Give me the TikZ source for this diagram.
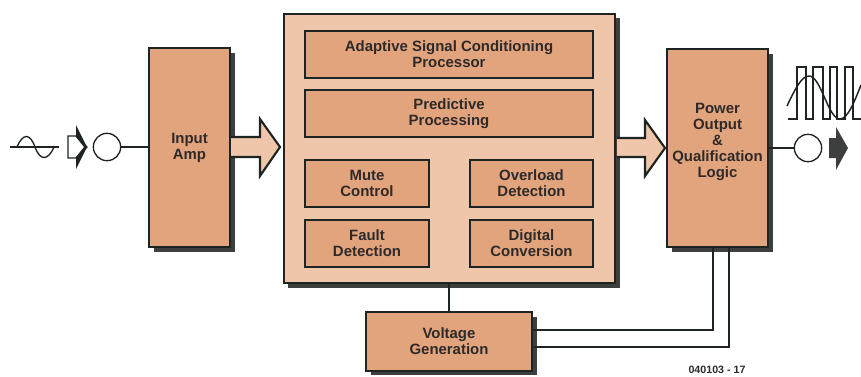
\documentclass[tikz,border=0pt]{standalone}
\usepackage{fontspec}
\setmainfont{Liberation Sans}
\definecolor{boxfill}{HTML}{E2A47C}
\definecolor{mainfill}{HTML}{EFC6A9}
\definecolor{inkc}{HTML}{1E2422}
\definecolor{shadowc}{HTML}{3C3F3E}
\definecolor{txt}{HTML}{2E2A2A}
\tikzset{
 x=0.75pt,y=-0.75pt,
 blockbox/.style={draw=inkc,line width=1.8pt,outer sep=0pt,fill=boxfill,inner sep=0pt,align=center,text=txt,font=\bfseries\fontsize{11.2}{12}\selectfont},
 wire/.style={draw=inkc,line width=1.25pt},
 fatarrow/.style={draw=inkc,line width=1.6pt,fill=mainfill,line join=miter},
 ringnode/.style={draw=inkc,line width=1pt,circle,minimum size=20.5pt,inner sep=0pt,outer sep=0pt,fill=white},
}
\newcommand{\blk}[7][blockbox]{% name x1 y1 x2 y2 text
 \node[#1,minimum width=#5*0.75pt-#3*0.75pt,minimum height=#6*0.75pt-#4*0.75pt,anchor=north west] (#2) at (#3,#4) {#7};}
\begin{document}
\begin{tikzpicture}
\useasboundingbox (0,0) rectangle (861,376);
\fill[white] (0,0) rectangle (861,376);
% shadows
\fill[shadowc] (154,53) rectangle (235,252);
\fill[shadowc] (288,18) rectangle (620,288);
\fill[shadowc] (672,54) rectangle (773,252);
\fill[shadowc] (371,317) rectangle (537,375);
% free ends
\coordinate (micin) at (120,147);
\coordinate (spkout) at (795,148);
\coordinate (j1) at (713,330);
\coordinate (j2) at (729,347);
% blocks
\blk{amp}{149}{48}{230}{247}{Input\\Amp}
\blk[blockbox,fill=mainfill]{main}{284}{14}{615}{283}{}
\blk{pow}{667}{49}{768}{247}{Power\\Output\\\&\\Qualification\\Logic\\\mbox{}}
\blk{volt}{366}{312}{532}{371}{Voltage\\Generation}
\blk{adapt}{305}{31}{593}{78}{Adaptive Signal Conditioning\\Processor}
\blk{pred}{305}{90}{593}{137}{Predictive\\Processing}
\blk{mute}{305}{160}{429}{207}{Mute\\Control}
\blk{over}{470}{160}{593}{207}{Overload\\Detection}
\blk{fault}{305}{220}{429}{267}{Fault\\Detection}
\blk{digi}{470}{220}{593}{267}{Digital\\Conversion}
% connectors
\draw[wire] (main.south -| volt.north) -- (volt.north);
\draw[wire] (micin) -- (amp.west |- micin);
\draw[wire] (pow.east |- spkout) -- (spkout);
\draw[wire] (pow.south -| j1) -- (j1) -- (j1 -| volt.east);
\draw[wire] (pow.south -| j2) -- (j2) -- (j2 -| volt.east);
% fat arrows
\draw[fatarrow] (231,137) -- (260,137) -- (260,119) -- (280,147) -- (260,176) -- (260,157) -- (231,157);
\draw[fatarrow] (617,138) -- (645,138) -- (645,120) -- (665,148) -- (645,176) -- (645,157) -- (617,157);
% input signal
\draw[draw=inkc,line width=1pt] (10,147) -- (59,147);
\draw[draw=inkc,line width=1pt] (17,147) .. controls (23,133) and (30,133) .. (35,147) .. controls (40,161) and (48,161) .. (54,147);
\draw[draw=inkc,line width=0.9pt,fill=white] (68,136) -- (76,136) -- (87,147) -- (76,158) -- (68,158) -- cycle;
\fill[inkc] (76,125) -- (87,147) -- (84,147) -- (76,137) -- cycle;
\fill[inkc] (76,169) -- (87,147) -- (84,147) -- (76,157) -- cycle;
\node[ringnode] (micc) at (107,147) {};
% output signal
\node[ringnode] (spkc) at (808,148) {};
\fill[shadowc] (829,138) -- (836,138) -- (836,127) -- (848,148) -- (836,170) -- (836,158) -- (829,158) -- cycle;
\draw[draw=inkc,line width=0.9pt] (788,119) -- (797,119) -- (797,67) -- (806,67) -- (806,119) -- (813,119) -- (813,67) -- (823,67) -- (823,119) -- (830,119) -- (830,67) -- (837,67) -- (837,119) -- (845,119) -- (845,67) -- (853,67) -- (853,119) -- (861,119);
\draw[draw=inkc,line width=1.1pt] (787,106) .. controls (796,87) and (802,76) .. (809,76) .. controls (821,76) and (828,119) .. (840,119) .. controls (848,119) and (855,100) .. (861,85);
% text
\node[font=\bfseries\fontsize{8}{9}\selectfont,text=txt,anchor=center,inner sep=0pt] (ref) at (717,370) {040103 - 17};
\end{tikzpicture}
\end{document}
